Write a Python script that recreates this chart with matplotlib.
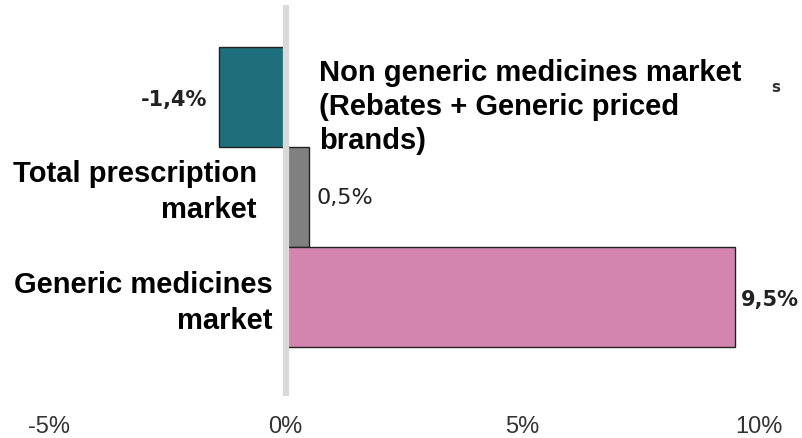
import matplotlib.pyplot as plt

# data
categories = ["Non generic medicines market\n(Rebates + Generic priced\nbrands)",
              "Total prescription\nmarket",
              "Generic medicines\nmarket"]
values = [-1.4, 0.5, 9.5]
value_labels = ["-1,4%", "0,5%", "9,5%"]
colors = ["#1f6e7b", "#808080", "#d385ae"]
ticks = [-5, 0, 5, 10]
tick_labels = ["-5%", "0%", "5%", "10%"]

fig = plt.figure(figsize=(8.03, 4.39), dpi=100)
ax = fig.add_axes([49 / 803, 1 - 397 / 439, 710 / 803, 391 / 439])

pos = list(range(len(values)))
ax.barh(pos, values, height=1.0, color=colors, edgecolor="#222222", lw=1, zorder=2)
ax.axvline(0, color="#d9d9d9", lw=4.5, zorder=3)

ax.set_xlim(-5, 10)
ax.set_ylim(2.99, -0.92)
ax.set_xticks(ticks)
ax.set_xticklabels(tick_labels, family=["Liberation Sans Narrow", "Liberation Sans"],
                   fontsize=17, color="#333333")
ax.set_yticks([])
ax.tick_params(axis="x", length=0, pad=14)
for s in ax.spines.values():
    s.set_visible(False)

# category labels
lab = dict(family=["Liberation Sans", "DejaVu Sans"], fontweight="bold", fontsize=21,
           color="black", va="center")
ax.text(0.70, 0.09, categories[0], ha="left", multialignment="left", linespacing=1.26, **lab)
ax.text(-0.61, 0.94, categories[1], ha="right", multialignment="right", linespacing=1.38, **lab)
ax.text(-0.27, 2.05, categories[2], ha="right", multialignment="right", linespacing=1.38, **lab)

# value labels
ax.text(-1.65, 0.02, value_labels[0], ha="right", va="center", fontsize=15,
        fontweight="bold", color="#222222")
ax.text(0.65, 1.0, value_labels[1], ha="left", va="center", fontsize=16, color="#222222")
ax.text(9.61, 2.02, value_labels[2], ha="left", va="center", fontsize=15,
        fontweight="bold", color="#222222")

# stray glyph in the original
ax.text(10.35, -0.1, "s", ha="center", va="center", fontsize=11, fontweight="bold",
        color="#333333")

fig.savefig("out.png", dpi=100)
